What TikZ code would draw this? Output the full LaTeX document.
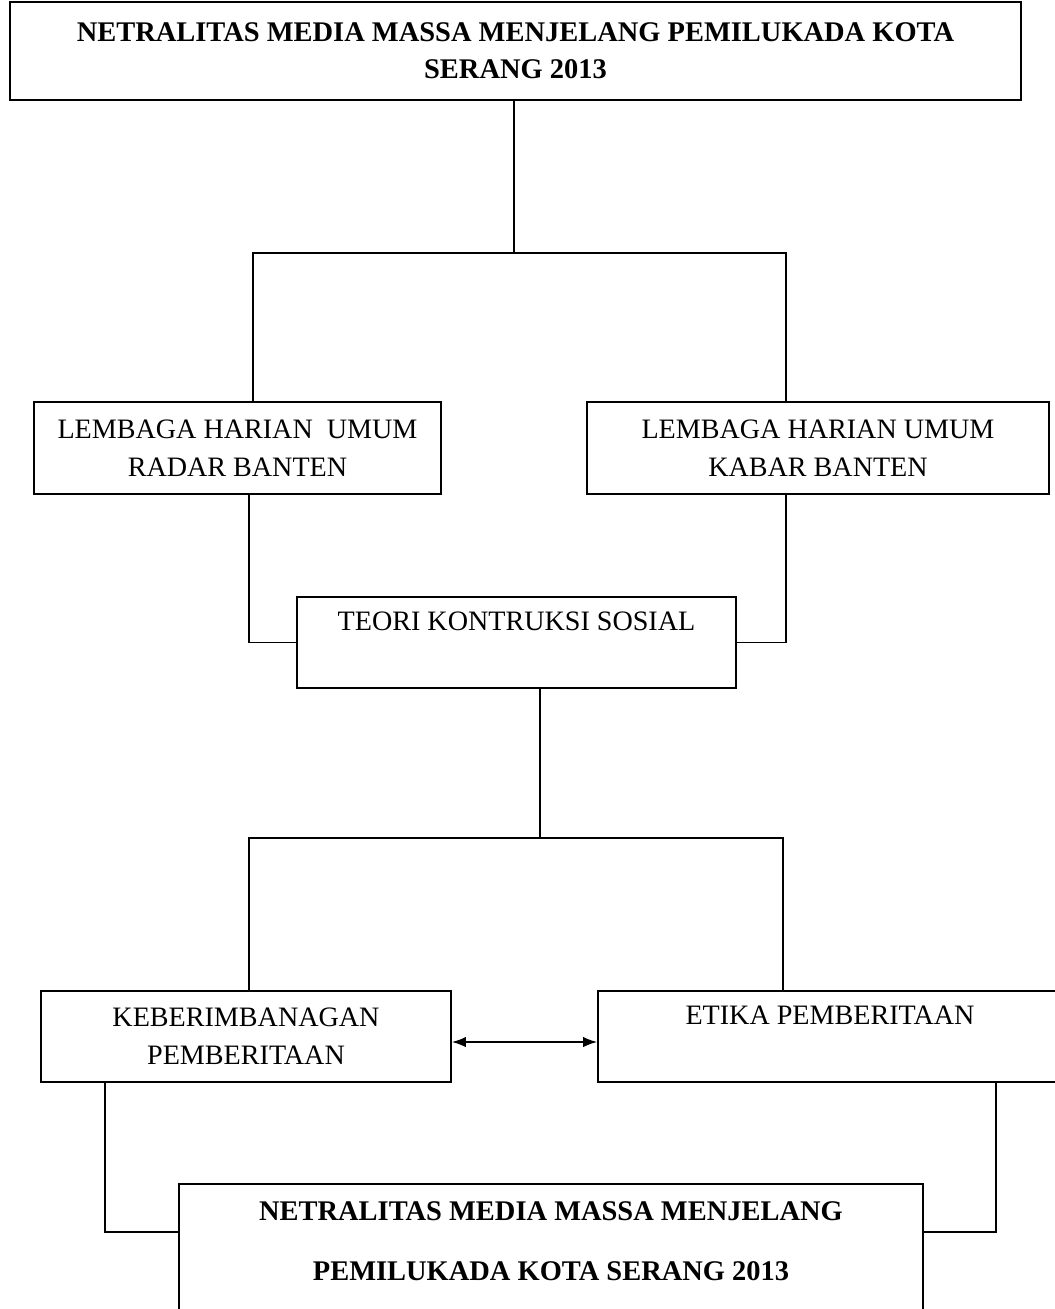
\documentclass[tikz,border=0pt]{standalone}
\usepackage{fontspec}
\setmainfont{Liberation Serif}
\usetikzlibrary{calc,arrows.meta}

\tikzset{
  kotak/.style={draw, line width=1pt, align=center, inner sep=0pt,
    font=\fontsize{16}{21.6}\selectfont},
  judul/.style={kotak, font=\fontsize{16.2}{21}\selectfont\bfseries},
  garis/.style={line width=1pt},
}

\begin{document}
\begin{tikzpicture}[x=0.02cm, y=-0.02cm, >={Latex[length=8pt,width=6pt]}]
            \clip (0,0) rectangle (1055,1309);
            \node[judul, minimum width=20.22cm, minimum height=1.96cm] (title) at (515.5,51) {NETRALITAS MEDIA MASSA MENJELANG PEMILUKADA KOTA\\SERANG 2013};
            \node[kotak, minimum width=8.14cm, minimum height=1.84cm] (radar) at (237.5,448) {LEMBAGA HARIAN \ UMUM\\RADAR BANTEN};
            \node[kotak, minimum width=9.24cm, minimum height=1.84cm] (kabar) at (818,448) {LEMBAGA HARIAN UMUM\\KABAR BANTEN};
            \node[kotak, minimum width=8.78cm, minimum height=1.82cm] (teori) at (516.5,642.5) {TEORI KONTRUKSI SOSIAL\\[-4pt]\strut};
            \node[kotak, minimum width=8.2cm, minimum height=1.82cm] (imbang) at (246,1036.5) {KEBERIMBANAGAN\\PEMBERITAAN};
            \node[kotak, minimum width=9.28cm, minimum height=1.82cm] (etika) at (830,1036.5) {ETIKA PEMBERITAAN\\[-4pt]\strut};
            \node[judul, minimum width=14.88cm, minimum height=3.84cm, font=\fontsize{16.2}{34}\selectfont\bfseries] (hasil) at (551,1280) {NETRALITAS MEDIA MASSA MENJELANG\\PEMILUKADA KOTA SERANG 2013\\\strut};
            \coordinate (j1) at (514,253);
            \coordinate (rl) at (253,253);
            \coordinate (kl) at (786,253);
            \coordinate (rb) at (249,645);
            \coordinate (j2) at (540,838);
            \coordinate (il) at (249,838);
            \coordinate (el) at (783,838);
            \coordinate (hl) at (105,1232);
            \coordinate (hr) at (996,1232);
            \coordinate (pnh) at (0,1042);
            \draw[garis] (j1 |- title.south)--(j1);
            \draw[garis] (rl |- radar.north)--(rl)--(kl)--(kl |- kabar.north);
            \draw[garis] (rb |- radar.south) |- (teori.west);
            \draw[garis] (kl |- kabar.south) |- (teori.east);
            \draw[garis] (j2 |- teori.south)--(j2);
            \draw[garis] (il |- imbang.north)--(il)--(el)--(el |- etika.north);
            \draw[garis, <->] (imbang.east |- pnh)--(etika.west |- pnh);
            \draw[garis] (hl |- imbang.south)--(hl)--(hl -| hasil.west);
            \draw[garis] (hr |- etika.south)--(hr)--(hr -| hasil.east);
        \end{tikzpicture}
\end{document}
